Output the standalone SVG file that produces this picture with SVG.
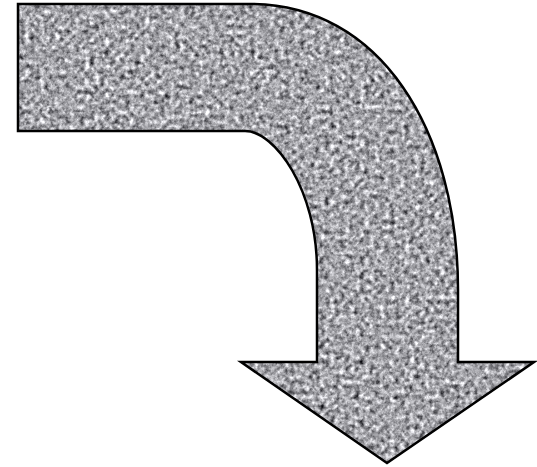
<svg xmlns="http://www.w3.org/2000/svg" width="537" height="467" viewBox="0 0 537 467">
  <defs>
    <filter id="granite" x="0" y="0" width="537" height="467" filterUnits="userSpaceOnUse" color-interpolation-filters="sRGB">
      <feTurbulence type="fractalNoise" baseFrequency="0.2" numOctaves="3" seed="7" result="n"/>
      <feColorMatrix in="n" type="matrix" values="0.33 0.33 0.33 0 0  0.33 0.33 0.33 0 0  0.33 0.33 0.33 0 0  0 0 0 0 1" result="g"/>
      <feGaussianBlur in="g" stdDeviation="0.5" result="b"/>
      <feComponentTransfer in="b">
        <feFuncR type="linear" slope="2.1" intercept="-0.4"/>
        <feFuncG type="linear" slope="2.1" intercept="-0.4"/>
        <feFuncB type="linear" slope="2.1" intercept="-0.38"/>
      </feComponentTransfer>
    </filter>
    <path id="arrowShape" d="M18,4 H250 C380,4 458,130 458,290 V362 H534 L387,463 L241,362 H317 V270 C317,190 275,131 245,131 H18 Z"/>
    <clipPath id="arrowClip">
      <use href="#arrowShape"/>
    </clipPath>
  </defs>
  <style>
    .outline { fill: none; stroke: #000; stroke-width: 2.5; stroke-linejoin: miter; }
  </style>
  <rect width="537" height="467" fill="#fff"/>
  <g id="bent-arrow">
    <g clip-path="url(#arrowClip)">
      <rect x="0" y="0" width="537" height="467" fill="#aaa" filter="url(#granite)"/>
    </g>
    <use href="#arrowShape" class="outline"/>
  </g>
</svg>
